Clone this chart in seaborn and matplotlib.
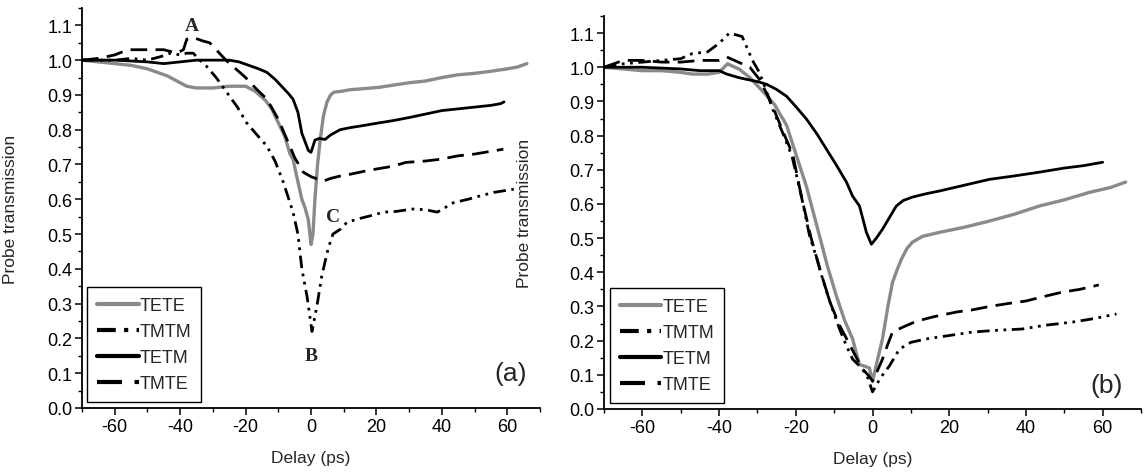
import numpy as np
import pandas as pd
import seaborn as sns
import matplotlib.pyplot as plt
from matplotlib.ticker import MultipleLocator

# ---- panel (a) ----
a_tete_x = [-70, -65, -60, -55, -50, -47, -44, -41, -38, -35, -30, -25, -20, -17, -14, -12, -10, -8, -6.4, -5.5,
            -4, -2.8, -1.8, -0.8, 0, 0.6, 1.2, 2, 2.8, 3.8, 4.9, 6, 7, 9, 12, 16, 21, 25, 30, 35,
            40, 45, 50, 55, 60, 63, 66]
a_tete_y = [1.0, 0.995, 0.99, 0.985, 0.975, 0.965, 0.955, 0.94, 0.925, 0.92, 0.92, 0.925, 0.925, 0.91, 0.885, 0.86, 0.82, 0.78, 0.73, 0.715,
            0.65, 0.60, 0.575, 0.54, 0.47, 0.5, 0.6, 0.7, 0.77, 0.84, 0.88, 0.9, 0.908, 0.91, 0.915, 0.918, 0.922, 0.928, 0.935, 0.94,
            0.95, 0.958, 0.962, 0.968, 0.975, 0.98, 0.99]

a_tmtm_x = [-70, -65, -60, -55, -50, -46, -43, -40, -38, -36, -34, -32, -29, -25.8, -22.5, -19.7, -16.5, -13.5, -11, -8.5,
            -5.5, -4, -2.8, -1.2, 0.3, 1.8, 3.3, 5.2, 6.7, 9, 11, 15, 20, 22, 26, 31, 35, 38.6, 43.5, 48,
            51.8, 56, 62]
a_tmtm_y = [1.0, 1.0, 1.0, 1.005, 1.0, 1.01, 1.02, 1.015, 1.02, 1.02, 1.0, 0.983, 0.95, 0.908, 0.865, 0.82, 0.785, 0.753, 0.71, 0.65,
            0.563, 0.5, 0.40, 0.32, 0.22, 0.293, 0.38, 0.457, 0.50, 0.514, 0.534, 0.545, 0.557, 0.563, 0.565, 0.572, 0.57, 0.563, 0.59, 0.6,
            0.61, 0.62, 0.629]

a_tetm_x = [-70, -60, -50, -45, -40, -35, -30, -25, -22, -19, -16, -13.5, -11, -8.5, -7, -5.5, -4, -2.8, -1.8, -0.8,
            0, 1.2, 2.5, 4.3, 6, 8.9, 12, 16, 21, 25, 30, 35, 40, 45, 50, 55, 58, 59]
a_tetm_y = [1.0, 1.0, 0.995, 0.99, 0.995, 1.0, 1.0, 1.0, 0.995, 0.985, 0.975, 0.965, 0.945, 0.92, 0.905, 0.888, 0.85, 0.79, 0.765, 0.74,
            0.735, 0.77, 0.775, 0.772, 0.785, 0.80, 0.806, 0.812, 0.82, 0.826, 0.835, 0.845, 0.855, 0.86, 0.865, 0.87, 0.875, 0.88]

a_tmte_x = [-70, -65, -60, -56, -50, -45, -41, -39, -38, -36, -33, -31, -29, -26, -23, -20, -17, -13.5, -10, -7.4,
            -5, -2.4, 0, 3.7, 6, 9, 12, 16, 20, 25, 29, 35, 39.5, 45, 50, 55, 58.8]
a_tmte_y = [1.0, 1.005, 1.015, 1.03, 1.03, 1.03, 1.02, 1.03, 1.06, 1.065, 1.055, 1.05, 1.03, 1.0, 0.975, 0.95, 0.92, 0.888, 0.83, 0.773,
            0.72, 0.678, 0.665, 0.652, 0.66, 0.667, 0.672, 0.68, 0.687, 0.695, 0.706, 0.71, 0.715, 0.725, 0.73, 0.738, 0.744]

# ---- panel (b) ----
b_tete_x = [-70, -65, -60, -55, -50, -47, -43, -40, -37.8, -34.7, -32, -29.5, -27.6, -25.5, -22.4, -19.8, -17.2, -14.3, -11.8, -9.4,
            -7.3, -5.2, -3.4, -2, -0.8, 0, 1, 2.6, 4, 5.2, 6.5, 7.6, 9, 10.4, 13, 17.5, 24, 30.5, 37, 43.5,
            50, 56.6, 62, 66]
b_tete_y = [1.0, 0.995, 0.99, 0.99, 0.985, 0.98, 0.98, 0.985, 1.01, 0.994, 0.97, 0.94, 0.917, 0.89, 0.83, 0.74, 0.65, 0.527, 0.42, 0.33,
            0.26, 0.205, 0.13, 0.125, 0.12, 0.08, 0.13, 0.205, 0.3, 0.37, 0.41, 0.44, 0.47, 0.488, 0.505, 0.517, 0.532, 0.55, 0.57, 0.594,
            0.612, 0.634, 0.648, 0.664]

b_tmtm_x = [-70, -65, -60, -55, -50, -47, -43, -40, -37.3, -34, -31.3, -29.5, -28, -26, -23.5, -21, -18.5, -16.4, -14.5, -13,
            -11, -8.6, -7, -5.2, -3.4, -1.5, 0, 2, 4.4, 7, 10, 14, 20, 26, 32, 39, 45, 52, 58, 63.6]
b_tmtm_y = [1.0, 1.01, 1.015, 1.02, 1.025, 1.04, 1.045, 1.07, 1.10, 1.09, 1.02, 0.985, 0.94, 0.877, 0.81, 0.74, 0.62, 0.506, 0.44, 0.38,
            0.31, 0.234, 0.19, 0.146, 0.126, 0.1, 0.05, 0.09, 0.126, 0.175, 0.195, 0.205, 0.215, 0.225, 0.23, 0.234, 0.245, 0.254, 0.265, 0.278]

b_tetm_x = [-70, -60, -50, -45, -40, -38, -35, -33, -30, -27.6, -25, -22.4, -20, -17.2, -14.5, -12, -9.5, -6.8, -5.2, -3.4,
            -1.6, -0.3, 1, 2.6, 4.4, 6.2, 8, 10.4, 14, 17.5, 24, 30.5, 37, 43.5, 50, 55, 60]
b_tetm_y = [1.0, 1.0, 0.995, 0.99, 0.99, 0.98, 0.97, 0.965, 0.958, 0.95, 0.935, 0.915, 0.885, 0.848, 0.805, 0.76, 0.715, 0.664, 0.623, 0.594,
            0.517, 0.482, 0.5, 0.526, 0.56, 0.594, 0.61, 0.62, 0.63, 0.638, 0.655, 0.672, 0.682, 0.693, 0.705, 0.712, 0.722]

b_tmte_x = [-70, -65, -60, -55, -50, -45, -40, -38, -35, -32, -29.5, -27, -25, -22.9, -20.8, -18.5, -16, -13.5, -11, -8.6,
            -6.5, -4.2, -2.6, -1.2, 0, 1.2, 2.6, 4, 5.2, 8, 11.5, 16, 22, 26, 30.5, 35, 40, 45, 49.5, 54,
            59]
b_tmte_y = [1.0, 1.02, 1.02, 1.015, 1.015, 1.02, 1.02, 1.03, 1.015, 1.0, 0.965, 0.91, 0.857, 0.80, 0.745, 0.62, 0.5, 0.4, 0.31, 0.245,
            0.2, 0.15, 0.117, 0.1, 0.082, 0.11, 0.146, 0.19, 0.225, 0.24, 0.257, 0.27, 0.284, 0.29, 0.30, 0.308, 0.316, 0.33, 0.342, 0.35,
            0.363]

labels = ["TETE", "TMTM", "TETM", "TMTE"]
colors = ["#8a8a8a", "black", "black", "black"]
styles = ["-", (0, (4.5, 2, 1, 2, 1, 2)), "-", (0, (6, 3))]

sns.set_style("ticks")
plt.rcParams.update({
    "font.family": ["Liberation Sans", "DejaVu Sans"],
    "axes.unicode_minus": False,
    "xtick.direction": "out", "ytick.direction": "out",
    "xtick.major.size": 5, "ytick.major.size": 5,
    "xtick.minor.size": 3, "ytick.minor.size": 3,
    "xtick.major.width": 1.1, "ytick.major.width": 1.1,
    "xtick.minor.width": 1.0, "ytick.minor.width": 1.0,
    "xtick.labelsize": 13, "ytick.labelsize": 13,
    "axes.linewidth": 1.3,
    "axes.edgecolor": "black",
    "xtick.color": "black", "ytick.color": "black",
})

fig = plt.figure(figsize=(11.47, 4.77), dpi=100)
ax_a = fig.add_axes([0.0715, 0.1426, 0.3993, 0.8386])
ax_b = fig.add_axes([0.5266, 0.1405, 0.4682, 0.8239])

panels = [
    (ax_a, [(a_tete_x, a_tete_y), (a_tmtm_x, a_tmtm_y), (a_tetm_x, a_tetm_y), (a_tmte_x, a_tmte_y)]),
    (ax_b, [(b_tete_x, b_tete_y), (b_tmtm_x, b_tmtm_y), (b_tetm_x, b_tetm_y), (b_tmte_x, b_tmte_y)]),
]

for ax, series in panels:
    for (x, y), lab, c, ls in zip(series, labels, colors, styles):
        lw = 2.4 if lab == "TETE" else 2.0
        sns.lineplot(x=x, y=y, ax=ax, color=c, linestyle=ls, linewidth=lw,
                     label=lab, sort=False, estimator=None)
    ax.set_xlim(-70, 70)
    ax.set_ylim(0, 1.15)
    ax.xaxis.set_major_locator(MultipleLocator(20))
    ax.xaxis.set_minor_locator(MultipleLocator(10))
    ax.yaxis.set_minor_locator(MultipleLocator(0.05))
    ax.set_yticks(np.arange(0, 1.11, 0.1))
    ax.yaxis.set_major_formatter(plt.FuncFormatter(lambda v, p: f"{v:.1f}"))
    ax.set_xlabel("Delay (ps)", fontsize=12.5, labelpad=11)
    ax.set_ylabel("Probe transmission", fontsize=12.5)
    ax.tick_params(axis="both", pad=2)
    sns.despine(ax=ax)
    leg = ax.legend(loc="lower left", bbox_to_anchor=(0.011, 0.015), borderaxespad=0,
                    fontsize=13, frameon=True, fancybox=False, framealpha=1,
                    handlelength=2.3, handletextpad=0.05, labelspacing=0.5, borderpad=0.55)
    leg.get_frame().set_edgecolor("black")
    leg.get_frame().set_linewidth(1.0)
    for h in leg.get_lines():
        h.set_linewidth(3.0)

ax_a.yaxis.set_label_coords(-0.14, 0.5)
ax_b.yaxis.set_label_coords(-0.134, 0.5)

serif = dict(family=["Liberation Serif", "DejaVu Serif"], fontweight="bold", fontsize=14,
             ha="center", va="center")
ax_a.text(-36.4, 1.10, "A", **serif)
ax_a.text(0, 0.15, "B", **serif)
ax_a.text(6.7, 0.55, "C", **serif)

ax_a.text(61, 0.10, "(a)", fontsize=19, ha="center", va="center")
ax_b.text(61, 0.07, "(b)", fontsize=19, ha="center", va="center")

fig.savefig("out.png", dpi=100)
